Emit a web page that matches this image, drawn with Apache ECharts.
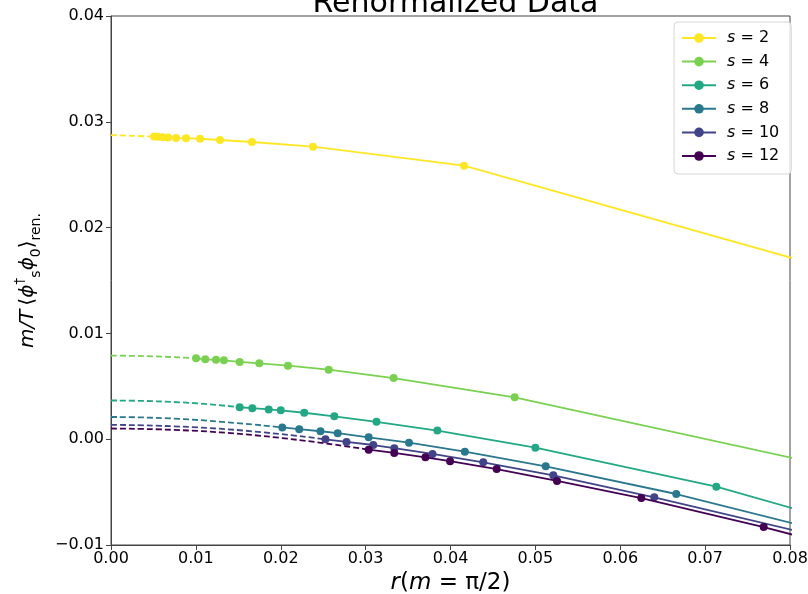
<!DOCTYPE html>
<html>
<head>
<meta charset="utf-8">
<script src="https://cdn.jsdelivr.net/npm/echarts@6/dist/echarts.min.js"></script>
<style>
html,body{margin:0;padding:0;background:#fff;}
#c{width:808px;height:594px;}
</style>
</head>
<body>
<div id="c"></div>
<script>
// ---- data ----
const sValues = [2, 4, 6, 8, 10, 12];
const colors = ['#fde725', '#7ad151', '#22a884', '#2a788e', '#414487', '#440154'];

const s2X = [0.00507, 0.00554, 0.00613, 0.00672, 0.00766, 0.00884, 0.01049, 0.01284, 0.01661, 0.0238, 0.04159, 0.1667];
const s2Y = [0.0286, 0.02858, 0.02855, 0.02852, 0.02848, 0.02845, 0.0284, 0.02828, 0.02809, 0.02765, 0.02585, -0.0024];
const s4X = [0.01002, 0.01111, 0.01237, 0.0133, 0.01516, 0.01747, 0.02085, 0.02565, 0.0333, 0.04756, 0.0833];
const s4Y = [0.00765, 0.00755, 0.00751, 0.00746, 0.0073, 0.00717, 0.00695, 0.00657, 0.00578, 0.00396, -0.00231];
const s6X = [0.01516, 0.01665, 0.01858, 0.02, 0.02277, 0.02631, 0.03128, 0.03845, 0.05, 0.07132, 0.125];
const s6Y = [0.00302, 0.00293, 0.00281, 0.00273, 0.0025, 0.00216, 0.00164, 0.00082, -0.0008, -0.00449, -0.0167];
const s8X = [0.02018, 0.02218, 0.02468, 0.02671, 0.03036, 0.03511, 0.04169, 0.05122, 0.0666, 0.0952];
const s8Y = [0.00111, 0.00095, 0.00075, 0.00057, 0.00018, -0.00033, -0.00118, -0.00256, -0.00518, -0.01096];
const s10X = [0.02527, 0.02775, 0.0309, 0.03338, 0.03788, 0.04386, 0.05211, 0.06401, 0.0833];
const s10Y = [-0.00001, -0.00026, -0.00055, -0.00085, -0.00139, -0.00218, -0.00341, -0.00549, -0.00915];
const s12X = [0.03036, 0.03337, 0.03705, 0.03995, 0.04544, 0.05255, 0.06248, 0.0769, 0.1];
const s12Y = [-0.00099, -0.0013, -0.00171, -0.00208, -0.00282, -0.00395, -0.00556, -0.0083, -0.01322];

// dashed extrapolation curves (x, y)
const ext2X = [0, 0.00507];            const ext2Y = [0.02875, 0.0286];
const ext4X = [0, 0.005, 0.01002];     const ext4Y = [0.0079, 0.00783, 0.00765];
const ext6X = [0, 0.0081, 0.01516];    const ext6Y = [0.00366, 0.00349, 0.00302];
const ext8X = [0, 0.0081, 0.02018];    const ext8Y = [0.0021, 0.00192, 0.00111];
const ext10X = [0, 0.0128, 0.02527];   const ext10Y = [0.00136, 0.00099, -0.00001];
const ext12X = [0, 0.01284, 0.03036];  const ext12Y = [0.00101, 0.00065, -0.00099];

const xTicks = [0, 0.01, 0.02, 0.03, 0.04, 0.05, 0.06, 0.07, 0.08];
const yTicks = [-0.01, 0, 0.01, 0.02, 0.03, 0.04];

// ---- build chart ----
const X_MIN = 0, X_MAX = 0.08;
const mainX = [s2X, s4X, s6X, s8X, s10X, s12X];
const mainY = [s2Y, s4Y, s6Y, s8Y, s10Y, s12Y];
const extX = [ext2X, ext4X, ext6X, ext8X, ext10X, ext12X];
const extY = [ext2Y, ext4Y, ext6Y, ext8Y, ext10Y, ext12Y];

const FONT = 'DejaVu Sans';
const series = [];
sValues.forEach((s, i) => {
  series.push({
    name: 's = ' + s,
    type: 'line',
    data: mainX[i].map((x, j) => x > X_MAX ? {value: [x, mainY[i][j]], symbol: 'none'} : [x, mainY[i][j]]),
    symbol: 'circle',
    symbolSize: 8,
    showAllSymbol: true,
    clip: true,
    z: 3 + i,
    itemStyle: {color: colors[i], borderWidth: 0},
    lineStyle: {color: colors[i], width: 1.8},
    emphasis: {disabled: true}
  });
  series.push({
    name: 'ext' + s,
    type: 'line',
    data: extX[i].map((x, j) => [x, extY[i][j]]),
    symbol: 'none',
    smooth: true,
    clip: true,
    z: 2 + i,
    lineStyle: {color: colors[i], width: 1.8, type: [6, 3]},
    emphasis: {disabled: true}
  });
});

const fmt = v => {
  const t = Number(v).toFixed(2);
  return t.replace('-', '\u2212');
};

const option = {
  animation: false,
  backgroundColor: '#fff',
  textStyle: {fontFamily: FONT},
  title: {
    text: 'Renormalized Data',
    left: 450.5,
    textAlign: 'center',
    top: -16,
    textStyle: {fontFamily: FONT, fontSize: 30, fontWeight: 'normal', color: '#000'}
  },
  grid: {left: 111, right: 18, top: 16, bottom: 49, show: true, borderColor: '#444', borderWidth: 1,
    containLabel: false, outerBoundsMode: 'none'},
  legend: {
    data: sValues.map(s => 's = ' + s),
    orient: 'vertical',
    left: 674,
    top: 22,
    padding: [8, 12, 10, 7],
    itemWidth: 34,
    itemHeight: 12,
    itemGap: 7.6,
    backgroundColor: 'rgba(255,255,255,0.8)',
    borderColor: '#d6d6d6',
    borderWidth: 1,
    borderRadius: 4,
    formatter: name => '{i|s}{n| = ' + name.split('= ')[1] + '}',
    textStyle: {
      fontFamily: FONT, fontSize: 16, color: '#000', padding: [0, 0, 0, 6],
      rich: {
        i: {fontFamily: FONT, fontSize: 16, fontStyle: 'italic', color: '#000'},
        n: {fontFamily: FONT, fontSize: 16, color: '#000'}
      }
    }
  },
  xAxis: {
    type: 'value',
    min: X_MIN, max: X_MAX, interval: 0.01,
    name: '{i|r}{n|(}{i|m}{n| = π/2)}',
    nameLocation: 'middle',
    nameGap: 26,
    nameTextStyle: {
      rich: {
        i: {fontFamily: FONT, fontSize: 23, fontStyle: 'italic', color: '#000'},
        n: {fontFamily: FONT, fontSize: 23, color: '#000'}
      }
    },
    axisLine: {show: true, onZero: false, lineStyle: {color: '#444', width: 1}},
    axisTick: {show: true, inside: false, length: 5, lineStyle: {color: '#444'}},
    axisLabel: {fontFamily: FONT, fontSize: 16, color: '#000', margin: 6, formatter: fmt,
      customValues: xTicks},
    splitLine: {show: false}
  },
  yAxis: {
    type: 'value',
    min: -0.01, max: 0.04, interval: 0.01,
    name: '{i|m/T} {n|⟨}{i|ϕ}{sup|†}{sub|s}{i|ϕ}{sub|0}{n|⟩}{sub|ren.}',
    nameLocation: 'middle',
    nameRotate: 90,
    nameGap: 68,
    nameTextStyle: {
      rich: {
        i: {fontFamily: FONT, fontSize: 20, fontStyle: 'italic', color: '#000', lineHeight: 30, verticalAlign: 'middle'},
        n: {fontFamily: FONT, fontSize: 20, color: '#000', lineHeight: 30, verticalAlign: 'middle'},
        sub: {fontFamily: FONT, fontSize: 14, color: '#000', lineHeight: 30, verticalAlign: 'bottom'},
        sup: {fontFamily: FONT, fontSize: 14, color: '#000', lineHeight: 30, verticalAlign: 'top'}
      }
    },
    axisLine: {show: true, onZero: false, lineStyle: {color: '#444', width: 1}},
    axisTick: {show: true, inside: false, length: 5, lineStyle: {color: '#444'}},
    axisLabel: {fontFamily: FONT, fontSize: 16, color: '#000', margin: 7, formatter: fmt,
      customValues: yTicks},
    splitLine: {show: false}
  },
  series: series
};

const chart = echarts.init(document.getElementById('c'), null, {renderer: 'canvas'});
chart.setOption(option);
</script>
</body>
</html>
